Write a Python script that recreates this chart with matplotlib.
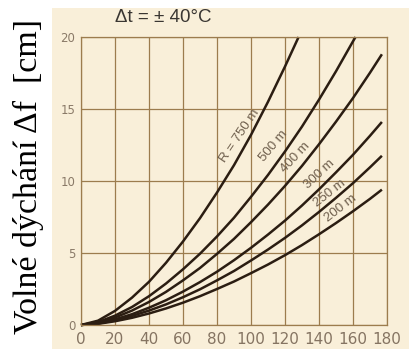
import numpy as np
import matplotlib
matplotlib.use("Agg")
import matplotlib.pyplot as plt
from matplotlib.patches import Rectangle

# delka L [m] (osa x) a volne dychani [cm] pro jednotlive polomery R
x_full = [0, 10, 20, 30, 40, 50, 60, 70, 80, 90, 100, 110, 120, 130, 140, 150, 160, 170, 177]
f200 = [0, 0.08, 0.26, 0.5, 0.8, 1.15, 1.55, 2.0, 2.5, 3.02, 3.6, 4.2, 4.85, 5.55, 6.3, 7.08, 7.9, 8.76, 9.4]
f250 = [0, 0.1, 0.33, 0.63, 1.0, 1.43, 1.93, 2.48, 3.1, 3.75, 4.48, 5.24, 6.05, 6.92, 7.85, 8.83, 9.85, 10.95, 11.75]
f300 = [0, 0.12, 0.39, 0.75, 1.2, 1.72, 2.32, 2.98, 3.7, 4.5, 5.36, 6.28, 7.25, 8.3, 9.42, 10.6, 11.82, 13.14, 14.1]
f400 = [0, 0.16, 0.52, 1.0, 1.6, 2.3, 3.1, 3.96, 4.94, 5.98, 7.14, 8.36, 9.66, 11.05, 12.55, 14.12, 15.76, 17.52, 18.8]
x500 = [0, 10, 20, 30, 40, 50, 60, 70, 80, 90, 100, 110, 120, 130, 140, 150, 160, 161.5]
f500 = [0, 0.2, 0.65, 1.25, 2.0, 2.88, 3.87, 4.95, 6.15, 7.45, 8.9, 10.42, 12.05, 13.78, 15.65, 17.62, 19.7, 20]
x750 = [0, 10, 20, 30, 40, 50, 60, 70, 80, 90, 100, 110, 120, 128]
f750 = [0, 0.3, 0.98, 1.9, 3.0, 4.32, 5.8, 7.42, 9.2, 11.1, 13.2, 15.5, 17.95, 20]

labels = ["R = 750 m", "500 m", "400 m", "300 m", "250 m", "200 m"]
# pozice popisku (x, y v jednotkach grafu) a natoceni
lab_x = [93.5, 113.5, 126, 140.5, 146.5, 153]
lab_y = [13.1, 12.4, 11.6, 10.5, 9.15, 8.1]
lab_rot = [56, 50, 47, 43, 38, 38]

xticks = [0, 20, 40, 60, 80, 100, 120, 140, 160, 180]
yticks = [0, 5, 10, 15, 20]

bg = "#f9efd9"
grid_c = "#9c7c4e"
line_c = "#2b1d12"
txt_c = "#6e5e4c"

fig = plt.figure(figsize=(4.09, 3.49), dpi=100)
fig.patch.set_facecolor("white")
fig.patches.append(Rectangle((52/409, 0), 1 - 52/409, 1 - 8/349, transform=fig.transFigure,
                             facecolor=bg, edgecolor="none", zorder=-10))

ax = fig.add_axes([81/409, 1 - 325/349, (387-81)/409, (325-37)/349])
ax.set_zorder(5)
ax.set_facecolor(bg)
ax.set_xlim(0, 180)
ax.set_ylim(0, 20)
ax.set_xticks(xticks)
ax.set_yticks(yticks)
ax.grid(True, color=grid_c, lw=0.9)
ax.set_axisbelow(True)
for s in ax.spines.values():
    s.set_color(grid_c)
    s.set_linewidth(0.9)
ax.tick_params(length=0)
ax.tick_params(axis="x", labelsize=11, colors="#857462", pad=5)
ax.tick_params(axis="y", labelsize=8.5, colors="#8a7a68", pad=4)

for xs, ys in [(x750, f750), (x500, f500), (x_full, f400), (x_full, f300), (x_full, f250), (x_full, f200)]:
    ax.plot(xs, ys, color=line_c, lw=1.8, solid_capstyle="butt", clip_on=False)

for t, lx, ly, r in zip(labels, lab_x, lab_y, lab_rot):
    ax.text(lx, ly, t, rotation=r, fontsize=9.5, color=txt_c, ha="center", va="center",
            family="Liberation Sans", rotation_mode="anchor")

fig.text(115/409, 1 - 17/349, "\u0394t = \u00b1 40\u00b0C", fontsize=13.5, color="#3a3632",
         ha="left", va="center", family="Liberation Sans")
fig.text(28/409, 1 - 177/349, "Volné dýchání \u0394f  [cm]", rotation=90, fontsize=24.5,
         family="Liberation Serif", ha="center", va="center", color="black")

fig.savefig("out.png", dpi=100)
